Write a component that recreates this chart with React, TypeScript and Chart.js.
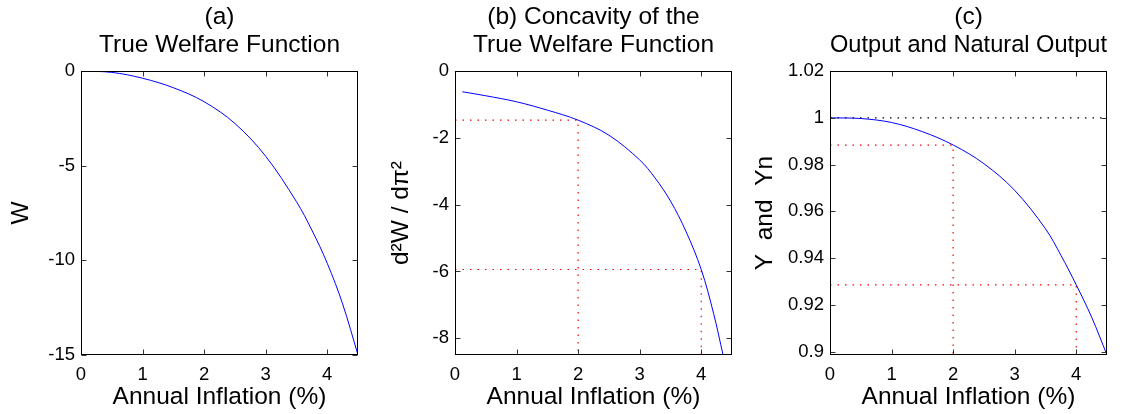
import React, { useEffect, useRef } from 'react';
import { Chart, registerables } from 'chart.js';

Chart.register(...registerables);

const FONT = '"Liberation Sans", Arial, Helvetica, sans-serif';

// shared x axis
const X_TICKS = [0, 1, 2, 3, 4];
const X_RANGE = [0, 4.5];
const X_LABEL = 'Annual Inflation (%)';

// (a) True welfare function
const A_TITLE = ['(a)', 'True Welfare Function'];
const A_YLABEL = 'W';
const A_X = [0, 0.5, 1, 1.5, 2, 2.5, 3, 3.5, 3.75, 4, 4.25, 4.5];
const A_W = [0, -0.07, -0.38, -0.88, -1.62, -2.77, -4.5, -6.9, -8.4, -10.15, -12.3, -15];
const A_Y_TICKS = [0, -5, -10, -15];
const A_Y_RANGE = [-15, 0];

// (b) Concavity
const B_TITLE = ['(b) Concavity of the', 'True Welfare Function'];
const B_YLABEL = 'd\u00B2W / d\u03C0\u00B2';
const B_X = [0.12, 0.5, 1, 1.5, 2, 2.5, 3, 3.25, 3.5, 3.75, 4, 4.2, 4.355];
const B_D2W = [-0.62, -0.74, -0.92, -1.17, -1.47, -1.92, -2.66, -3.2, -3.89, -4.79, -5.94, -7.25, -8.5];
const B_Y_TICKS = [0, -2, -4, -6, -8];
const B_Y_RANGE = [-8.5, 0];
const B_GUIDE_X = [2, 4];
const B_GUIDE_Y = [-1.47, -5.94];

// (c) Output and natural output
const C_TITLE = ['(c)', 'Output and Natural Output'];
const C_YLABEL = 'Y  and  Yn';
const C_X = [0, 0.5, 1, 1.5, 2, 2.5, 3, 3.5, 3.75, 4, 4.25, 4.5];
const C_Y = [1.0, 0.9997, 0.998, 0.9941, 0.9884, 0.9804, 0.969, 0.9526, 0.9413, 0.9286, 0.9148, 0.8986];
const C_YN_X = [0, 4.5];
const C_YN = [1, 1];
const C_Y_TICKS = [0.9, 0.92, 0.94, 0.96, 0.98, 1, 1.02];
const C_Y_RANGE = [0.8986, 1.02];
const C_GUIDE_X = [2, 4];
const C_GUIDE_Y = [0.9883, 0.9286];

const fmt = (v: number) => String(Math.round(v * 100) / 100);

const boxPlugin = {
  id: 'matlabBox',
  afterDraw(chart: any) {
    const { ctx, chartArea: a, scales } = chart;
    const L = Math.floor(a.left) + 0.5;
    const R = Math.round(a.right) - 0.5;
    const T = Math.floor(a.top) + 0.5;
    const B = Math.round(a.bottom) - 0.5;
    const tl = 5;
    ctx.save();
    ctx.strokeStyle = '#333';
    ctx.lineWidth = 1;
    ctx.beginPath();
    for (const t of scales.x.ticks) {
      const px = Math.round(scales.x.getPixelForValue(t.value)) + 0.5;
      ctx.moveTo(px, B);
      ctx.lineTo(px, B - tl);
      ctx.moveTo(px, T);
      ctx.lineTo(px, T + tl);
    }
    for (const t of scales.y.ticks) {
      const py = Math.round(scales.y.getPixelForValue(t.value)) + 0.5;
      ctx.moveTo(L, py);
      ctx.lineTo(L + tl, py);
      ctx.moveTo(R, py);
      ctx.lineTo(R - tl, py);
    }
    ctx.stroke();
    ctx.strokeStyle = '#000';
    ctx.strokeRect(L, T, R - L, B - T);
    ctx.restore();
  },
};

const zip = (xs: number[], ys: number[]) => xs.map((x, i) => ({ x, y: ys[i] }));

function guideSets(gx: number[], gy: number[], ymin: number) {
  return gx.map((x, i) => ({
    data: [
      { x: X_RANGE[0], y: gy[i] },
      { x, y: gy[i] },
      { x, y: ymin },
    ],
    borderColor: '#ff0000',
    borderWidth: 1.2,
    borderDash: [1.5, 6],
    pointRadius: 0,
    tension: 0,
  }));
}

type Spec = {
  title: string[];
  ylabel: string;
  datasets: any[];
  yTicks: number[];
  yRange: number[];
  yAxisWidth: number;
  yTitlePad: number;
  rightPad: number;
};

function makeConfig(s: Spec): any {
  return {
    type: 'line',
    data: { datasets: s.datasets },
    plugins: [boxPlugin],
    options: {
      animation: false,
      responsive: false,
      devicePixelRatio: 1,
      layout: { padding: { left: 0, right: s.rightPad, top: 0, bottom: 0 } },
      plugins: {
        legend: { display: false },
        tooltip: { enabled: false },
        title: {
          display: true,
          text: s.title,
          fullSize: false,
          color: '#000',
          font: { family: FONT, size: 24.5, weight: 'normal', lineHeight: 1.15 },
          padding: { top: 3, bottom: 11.7 },
        },
      },
      scales: {
        x: {
          type: 'linear',
          min: X_RANGE[0],
          max: X_RANGE[1],
          grid: { display: false, drawTicks: false },
          border: { display: false },
          ticks: {
            color: '#000',
            font: { family: FONT, size: 18.5 },
            padding: 8.5,
            maxRotation: 0,
            autoSkip: false,
            callback: (v: number) => fmt(v),
          },
          afterBuildTicks: (sc: any) => {
            sc.ticks = X_TICKS.map((v) => ({ value: v }));
          },
          afterFit: (sc: any) => {
            sc.height = 59;
          },
          title: {
            display: true,
            text: X_LABEL,
            color: '#000',
            font: { family: FONT, size: 24.5, lineHeight: 1.2 },
            padding: { top: 0, bottom: 2.3 },
          },
        },
        y: {
          type: 'linear',
          min: s.yRange[0],
          max: s.yRange[1],
          grid: { display: false, drawTicks: false },
          border: { display: false },
          ticks: {
            color: '#000',
            font: { family: FONT, size: 18.5 },
            padding: 6,
            autoSkip: false,
            callback: (v: number) => fmt(v),
          },
          afterBuildTicks: (sc: any) => {
            sc.ticks = s.yTicks.map((v) => ({ value: v }));
          },
          afterFit: (sc: any) => {
            sc.width = s.yAxisWidth;
          },
          title: {
            display: true,
            text: s.ylabel,
            color: '#000',
            font: { family: FONT, size: 24.5, lineHeight: 1.2 },
            padding: { top: s.yTitlePad, bottom: 0 },
          },
        },
      },
    },
  };
}

const curve = (xs: number[], ys: number[]) => ({
  data: zip(xs, ys),
  borderColor: '#0000ff',
  borderWidth: 1,
  pointRadius: 0,
  tension: 0.35,
});

const SPEC_A: Spec = {
  title: A_TITLE,
  ylabel: A_YLABEL,
  datasets: [curve(A_X, A_W)],
  yTicks: A_Y_TICKS,
  yRange: A_Y_RANGE,
  yAxisWidth: 81,
  yTitlePad: 7,
  rightPad: 17,
};

const SPEC_B: Spec = {
  title: B_TITLE,
  ylabel: B_YLABEL,
  datasets: [curve(B_X, B_D2W), ...guideSets(B_GUIDE_X, B_GUIDE_Y, B_Y_RANGE[0])],
  yTicks: B_Y_TICKS,
  yRange: B_Y_RANGE,
  yAxisWidth: 80,
  yTitlePad: 12,
  rightPad: 18,
};

const SPEC_C: Spec = {
  title: C_TITLE,
  ylabel: C_YLABEL,
  datasets: [
    curve(C_X, C_Y),
    {
      data: zip(C_YN_X, C_YN),
      borderColor: '#000',
      borderWidth: 1.2,
      borderDash: [1.5, 6],
      pointRadius: 0,
    },
    ...guideSets(C_GUIDE_X, C_GUIDE_Y, C_Y_RANGE[0]),
  ],
  yTicks: C_Y_TICKS,
  yRange: C_Y_RANGE,
  yAxisWidth: 80,
  yTitlePad: 1,
  rightPad: 16,
};

function Panel({ spec, left, width }: { spec: Spec; left: number; width: number }) {
  const ref = useRef<HTMLCanvasElement>(null);
  useEffect(() => {
    if (!ref.current) return;
    const chart = new Chart(ref.current, makeConfig(spec));
    return () => chart.destroy();
  }, [spec]);
  return (
    <canvas
      ref={ref}
      width={width}
      height={414}
      style={{ position: 'absolute', left, top: 0, width, height: 414 }}
    />
  );
}

export default function App() {
  return (
    <div
      style={{
        position: 'fixed',
        left: 0,
        top: 0,
        width: 1123,
        height: 414,
        background: '#fff',
        overflow: 'hidden',
      }}
    >
      <Panel spec={SPEC_A} left={0} width={375} />
      <Panel spec={SPEC_B} left={375} width={375} />
      <Panel spec={SPEC_C} left={750} width={373} />
    </div>
  );
}
